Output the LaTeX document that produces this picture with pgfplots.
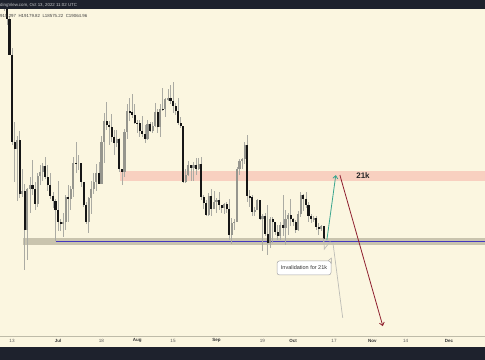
\documentclass[border=0pt]{standalone}
\usepackage{pgfplots}
\pgfplotsset{compat=1.18}
\usepackage{pgfplotstable}
\usepackage{fontspec}
\setmainfont{Liberation Sans}
\usetikzlibrary{arrows.meta}
\definecolor{cream}{HTML}{FBF6E0}
\definecolor{darkbar}{HTML}{1E222D}
\definecolor{pinkz}{HTML}{F8D0C0}
\definecolor{greyz}{HTML}{C9C4AE}
\definecolor{bline}{HTML}{4338C0}
\definecolor{teal}{HTML}{3AA68E}
\definecolor{maroon}{HTML}{8E1F2E}
\definecolor{wick}{HTML}{ABABA3}
\definecolor{upbody}{HTML}{96968E}
\definecolor{downbody}{HTML}{161616}
\definecolor{gpath}{HTML}{BDBDB6}
\definecolor{axisgrey}{HTML}{BEBBA8}
% daily BTC candles, day 0 = 13 Jun 2022, prices in thousands of USD
\pgfplotstableread{
d O H L C
-3 30.10 30.35 28.85 29.08
-2 29.08 29.44 28.10 28.42
-1 28.42 28.55 26.56 26.57
0 26.57 26.88 22.36 22.49
1 22.49 23.36 20.85 22.21
2 22.21 22.75 20.11 22.57
3 22.57 22.97 20.23 20.38
4 20.38 21.37 20.25 20.47
5 20.47 20.78 17.62 19.02
6 19.02 20.62 17.96 20.55
7 20.55 21.04 19.65 20.71
8 20.71 21.72 20.35 20.55
9 20.55 20.85 19.75 19.99
10 19.99 21.20 19.89 21.09
11 21.09 21.52 20.74 21.23
12 21.23 21.60 20.90 21.50
13 21.50 21.87 20.96 21.03
14 21.03 21.52 20.50 20.73
15 20.73 21.19 20.19 20.28
16 20.28 20.43 19.85 20.10
17 20.10 20.17 18.63 19.78
18 19.78 20.87 18.98 19.30
19 19.30 19.43 18.98 19.24
20 19.24 19.65 18.78 19.31
21 19.31 20.35 19.04 20.24
22 20.24 20.73 19.30 20.18
23 20.18 20.68 19.77 20.56
24 20.56 21.84 20.26 21.62
25 21.62 22.50 21.20 21.59
26 21.59 21.95 21.32 21.59
27 21.59 21.60 20.65 20.86
28 20.86 20.86 19.89 19.96
29 19.96 20.05 19.24 19.33
30 19.33 20.24 18.91 20.21
31 20.21 20.88 19.63 20.57
32 20.57 21.20 20.38 20.84
33 20.84 21.58 20.48 21.19
34 21.19 21.65 20.76 20.78
35 20.78 22.75 20.76 22.49
36 22.49 23.76 21.60 23.39
37 23.39 24.27 23.02 23.23
38 23.23 23.42 22.37 23.16
39 23.16 23.74 22.51 22.71
40 22.71 22.99 21.96 22.47
41 22.47 22.99 22.27 22.61
42 22.61 22.65 21.25 21.36
43 21.36 21.36 20.71 21.24
44 21.24 23.07 21.04 22.93
45 22.93 24.18 22.60 23.84
46 23.84 24.44 23.42 23.80
47 23.80 24.65 23.54 23.66
48 23.66 24.17 23.28 23.34
49 23.34 23.45 22.86 23.31
50 23.31 23.46 22.69 22.98
51 22.98 23.64 22.70 22.85
52 22.85 23.22 22.43 22.63
53 22.63 23.45 22.59 23.29
54 23.29 23.35 22.94 22.96
55 22.96 23.38 22.86 23.18
56 23.18 24.22 23.16 23.81
57 23.81 23.93 22.89 23.15
58 23.15 24.20 22.70 23.95
59 23.95 24.92 23.88 23.93
60 23.93 24.44 23.60 24.40
61 24.40 24.89 24.31 24.44
62 24.44 25.05 24.20 24.31
63 24.31 25.21 23.77 24.09
64 24.09 24.24 23.70 23.85
65 23.85 24.45 23.22 23.34
66 23.34 23.59 23.12 23.19
67 23.19 23.20 20.79 20.83
68 20.83 21.38 20.80 21.14
69 21.14 21.68 21.07 21.52
70 21.52 21.52 20.89 21.40
71 21.40 21.66 20.90 21.53
72 21.53 21.82 21.11 21.37
73 21.37 21.80 21.31 21.56
74 21.56 21.87 20.14 20.24
75 20.24 20.34 19.80 20.04
76 20.04 20.15 19.55 19.56
77 19.56 20.40 19.55 20.29
78 20.29 20.57 19.54 19.81
79 19.81 20.48 19.80 20.05
80 20.05 20.20 19.65 20.13
81 20.13 20.44 19.76 19.95
82 19.95 19.96 19.65 19.83
83 19.83 20.02 19.60 19.99
84 19.99 20.05 19.64 19.81
85 19.81 20.18 18.68 18.84
86 18.84 19.46 18.54 19.29
87 19.29 19.42 19.01 19.33
88 19.33 21.43 19.32 21.38
89 21.38 21.79 21.14 21.68
90 21.68 21.82 21.37 21.77
91 21.77 22.49 21.56 22.37
92 22.37 22.80 20.08 20.30
93 20.30 20.51 19.88 20.24
94 20.24 20.34 19.55 19.70
95 19.70 19.88 19.52 19.77
96 19.77 20.18 19.76 20.13
97 20.13 20.13 19.38 19.42
98 19.42 19.63 18.27 19.54
99 19.54 19.64 18.81 18.89
100 18.89 19.95 18.13 18.55
101 18.55 19.50 18.38 19.41
102 19.41 19.49 18.57 19.30
103 19.30 19.32 18.83 18.94
104 18.94 19.19 18.65 18.80
105 18.80 19.31 18.68 19.22
106 19.22 20.34 18.82 19.11
107 19.11 19.76 18.47 19.43
108 19.43 19.65 18.86 19.57
109 19.57 20.17 19.17 19.43
110 19.43 19.48 19.16 19.31
111 19.31 19.40 18.92 19.04
112 19.04 19.71 19.00 19.62
113 19.62 20.46 19.50 20.34
114 20.34 20.36 19.73 20.16
115 20.16 20.46 19.85 19.96
116 19.96 20.06 19.33 19.53
117 19.53 19.63 19.26 19.42
118 19.42 19.55 19.33 19.45
119 19.45 19.52 19.03 19.14
120 19.14 19.27 18.86 19.05
121 19.05 19.21 18.97 19.16
122 19.16 19.18 18.58 18.70
}\btc

\begin{document}
\begin{tikzpicture}
\begin{axis}[
  scale only axis, width=485pt, height=360pt,
  xmin=-4.70, xmax=185.08,
  ymode=log, ymin=14.85, ymax=29.48,
  axis lines=none, ticks=none,
  clip=true,
]
% background
\fill[cream] (rel axis cs:0,0) rectangle (rel axis cs:1,1);
% zones
\addplot[fill=pinkz, draw=none, forget plot] coordinates {(42.2,20.88) (186,20.88) (186,21.28) (42.2,21.28)};
\addplot[fill=greyz, draw=none, forget plot] coordinates {(4.3,18.50) (186,18.50) (186,18.75) (4.3,18.75)};
\addplot[bline, line width=0.8pt, forget plot] coordinates {(17.2,18.62) (186,18.62)};
% wicks
\addplot[draw=none, mark=none, forget plot,
  error bars/.cd, y dir=both, y explicit, error mark=none,
  error bar style={draw=wick, line width=0.6pt}]
  table[x=d, y expr={(\thisrow{H}+\thisrow{L})/2},
        y error plus expr={(\thisrow{H}-\thisrow{L})/2},
        y error minus expr={(\thisrow{H}-\thisrow{L})/2}]{\btc};
% up bodies (zero length for down candles)
\addplot[draw=none, mark=none, forget plot,
  error bars/.cd, y dir=both, y explicit, error mark=none,
  error bar style={draw=upbody, line width=2.1pt}]
  table[x=d, y expr={(\thisrow{O}+\thisrow{C})/2},
        y error plus expr={max(\thisrow{C}-\thisrow{O},0)/2},
        y error minus expr={max(\thisrow{C}-\thisrow{O},0)/2}]{\btc};
% down bodies (zero length for up candles)
\addplot[draw=none, mark=none, forget plot,
  error bars/.cd, y dir=both, y explicit, error mark=none,
  error bar style={draw=downbody, line width=2.1pt}]
  table[x=d, y expr={(\thisrow{O}+\thisrow{C})/2},
        y error plus expr={max(\thisrow{O}-\thisrow{C},0)/2},
        y error minus expr={max(\thisrow{O}-\thisrow{C},0)/2}]{\btc};
% projected paths
\addplot[gpath, line width=0.7pt, forget plot] coordinates {(122.0,18.73) (122.2,18.34) (124.4,18.60) (125.6,18.55) (126.7,17.80) (129.4,16.09)};
\addplot[teal, line width=0.8pt, -{Straight Barb[length=3pt,width=5pt]}, forget plot] coordinates {(123.2,18.66) (126.7,21.12)};
\addplot[maroon, line width=0.8pt, -{Straight Barb[length=3pt,width=5pt]}, forget plot] coordinates {(128.3,21.12) (145.1,15.84)};
% labels
\node[font=\fontsize{8}{9}\selectfont\bfseries, text=black!85] at (rel axis cs:0.7485,0.5111) {21k};
\node[draw=gray!70, fill=white, rounded corners=2.5pt, line width=0.5pt, minimum width=54pt, minimum height=14pt, inner sep=0pt,
  font=\fontsize{5.5}{6}\selectfont, text=black!80] (cb) at (rel axis cs:0.6268,0.2556) {Invalidation for 21k};
\draw[gray!70, line width=0.5pt] ([xshift=-3pt]cb.north east) -- ([yshift=2.5pt]cb.north east) -- ([yshift=-3pt]cb.north east);
% x axis strip
\draw[axisgrey, line width=0.7pt] (rel axis cs:0,0.0667) -- (rel axis cs:1,0.0667);
\fill[darkbar] (rel axis cs:0,0) rectangle (rel axis cs:1,0.0369);
\node[font=\fontsize{4.6}{5}\selectfont, text=black!65] at (axis cs:0,15.40) {13};
\node[font=\fontsize{4.6}{5}\selectfont, text=black!65] at (axis cs:35,15.40) {18};
\node[font=\fontsize{4.6}{5}\selectfont, text=black!65] at (axis cs:63,15.40) {15};
\node[font=\fontsize{4.6}{5}\selectfont, text=black!65] at (axis cs:98,15.40) {19};
\node[font=\fontsize{4.6}{5}\selectfont, text=black!65] at (axis cs:126,15.40) {17};
\node[font=\fontsize{4.6}{5}\selectfont, text=black!65] at (axis cs:154,15.40) {14};
\node[font=\fontsize{4.5}{5}\selectfont\bfseries, text=black!80] at (axis cs:18,15.40) {Jul};
\node[font=\fontsize{4.5}{5}\selectfont\bfseries, text=black!80] at (axis cs:49,15.40) {Aug};
\node[font=\fontsize{4.5}{5}\selectfont\bfseries, text=black!80] at (axis cs:80,15.40) {Sep};
\node[font=\fontsize{4.5}{5}\selectfont\bfseries, text=black!80] at (axis cs:110,15.40) {Oct};
\node[font=\fontsize{4.5}{5}\selectfont\bfseries, text=black!80] at (axis cs:141,15.40) {Nov};
\node[font=\fontsize{4.5}{5}\selectfont\bfseries, text=black!80] at (axis cs:171,15.40) {Dec};
% header
\fill[darkbar] (rel axis cs:0,0.975) rectangle (rel axis cs:1,1);
\node[anchor=west, inner sep=0pt, font=\fontsize{4.4}{5}\selectfont, text=white!75!darkbar] at (rel axis cs:0,0.9861) {dingView.com, Oct 13, 2022 11:02 UTC};
\node[anchor=west, inner sep=0pt, font=\fontsize{4.4}{5}\selectfont, text=black!75] at (rel axis cs:0,0.9556) {915.297\ \ H19179.82\ \ L18575.22\ \ C19064.96};
\end{axis}
\end{tikzpicture}
\end{document}
